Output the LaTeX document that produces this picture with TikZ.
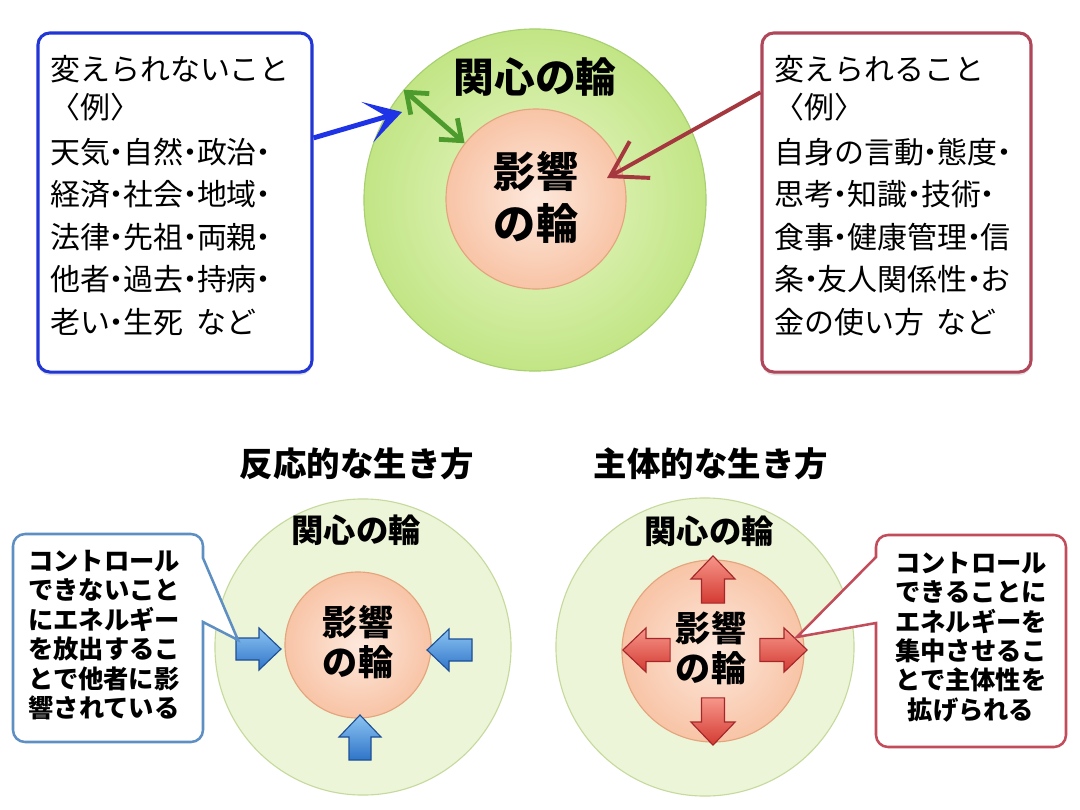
\documentclass[tikz,border=0pt]{standalone}
\usepackage{fontspec}
\setmainfont{Noto Sans CJK JP}
\usetikzlibrary{arrows.meta,shadows}

\definecolor{ringgreen}{HTML}{C2E585}
\definecolor{ringgreenlt}{HTML}{EAF8CC}
\definecolor{ringedge}{HTML}{A8CF70}
\definecolor{coreorange}{HTML}{F8C4A6}
\definecolor{corelt}{HTML}{FDE8DC}
\definecolor{coreedge}{HTML}{E3A57E}
\definecolor{paleouter}{HTML}{EDF5D8}
\definecolor{paleedge}{HTML}{C6DA9E}
\definecolor{nocol}{HTML}{2236D6}
\definecolor{yescol}{HTML}{B0465A}
\definecolor{arrowblue}{HTML}{1F33E6}
\definecolor{arrowred}{HTML}{A5373F}
\definecolor{arrowgreen}{HTML}{4C9B2C}
\definecolor{callblue}{HTML}{5E8FC2}
\definecolor{callred}{HTML}{C24C5A}
\definecolor{blkblue}{HTML}{2F74C8}
\definecolor{blkbluelt}{HTML}{8CC4F2}
\definecolor{blkblueedge}{HTML}{1D4F96}
\definecolor{blkred}{HTML}{D33A32}
\definecolor{blkredlt}{HTML}{F7968A}
\definecolor{blkrededge}{HTML}{A3262A}

% narrow middle dot
\newcommand{\nk}{\makebox[0.45em]{・}}

\tikzset{
  blockarrow/.pic={
    \draw[pic actions] (-22,-11) -- (1,-11) -- (1,-21) -- (23,0)
      -- (1,21) -- (1,11) -- (-22,11) -- cycle;
  },
}

\begin{document}
\begin{tikzpicture}[x=0.025cm, y=-0.025cm,
  box/.style={draw, line width=2.2pt, rounded corners=0.3cm, fill=white,
    minimum height=8.475cm,
    drop shadow={opacity=0.22, shadow xshift=0pt, shadow yshift=-0.08cm}},
  boxtext/.style={anchor=north west, inner sep=0pt, align=left,
    font=\fontsize{21.3}{30.2}\selectfont},
  ring/.style={circle, draw=ringedge, line width=0.8pt,
    inner color=ringgreenlt, outer color=ringgreen},
  core/.style={circle, draw=coreedge, line width=0.8pt,
    inner color=corelt, outer color=coreorange},
  palering/.style={circle, draw=paleedge, line width=0.8pt, fill=paleouter},
  ringlabel/.style={font=\bfseries\fontsize{29}{34}\selectfont},
  corelabel/.style={align=center, font=\bfseries\fontsize{30}{37}\selectfont},
  title/.style={font=\bfseries\fontsize{23.8}{28}\selectfont},
  smalllabel/.style={font=\bfseries\fontsize{23}{27}\selectfont},
  smallcore/.style={align=center, font=\bfseries\fontsize{25}{28}\selectfont},
  calltext/.style={align=center, font=\bfseries\fontsize{18}{20.9}\selectfont},
  callout/.style={line width=1.8pt, fill=white},
  blueblock/.style={draw=blkblueedge, line width=0.8pt,
    top color=blkbluelt, bottom color=blkblue},
  redblock/.style={draw=blkrededge, line width=0.8pt,
    top color=blkredlt, bottom color=blkred, scale=1.05},
]
  \fill[white] (0,0) rectangle (1080,810);
  \useasboundingbox (0,0) rectangle (1080,810);

  % Top: circle of concern and circle of influence.
  \node[ring, minimum size=8.55cm] (outer) at (535,200) {};
  \node[core, minimum size=4.5cm] (inner) at (536,199) {};
  \node[ringlabel] (concern) at (535,77) {関心の輪};
  \node[corelabel] (influence) at (536,197) {影響\\の輪};

  % Things that cannot / can be changed.
  \node[box, draw=nocol, minimum width=6.85cm] (nobox) at (175,202.5) {};
  \node[boxtext] (notext) at (50,55)
    {変えられないこと\\[-3.2pt]
     〈例〉\\[1.8pt]
     天気\nk 自然\nk 政治\nk\\
     経済\nk 社会\nk 地域\nk\\
     法律\nk 先祖\nk 両親\nk\\
     他者\nk 過去\nk 持病\nk\\
     老い\nk 生死 \hspace{0.2em}など};
  \node[box, draw=yescol, minimum width=6.725cm] (yesbox) at (896.5,202.5) {};
  \node[boxtext] (yestext) at (774,55)
    {変えられること\\[-3.2pt]
     〈例〉\\[1.8pt]
     自身の言動\nk 態度\nk\\
     思考\nk 知識\nk 技術\nk\\
     食事\nk 健康管理\nk 信\\
     条\nk 友人関係性\nk お\\
     金の使い方 \hspace{0.2em}など};

  \coordinate (bluetip) at (402,112);
  \coordinate (redtip) at (607,178);
  \draw[arrowblue, line width=3.5pt,
    -{Stealth[length=0.9cm, width=1.05cm, inset=0.5cm]}] (nobox.25) -- (bluetip);
  \draw[arrowred, line width=2.8pt,
    -{Straight Barb[length=0.85cm, width=1.05cm]}] (yesbox.141) -- (redtip);
  \draw[arrowgreen, line width=3.4pt,
    {Straight Barb[length=0.45cm, width=0.7cm]}-{Straight Barb[length=0.45cm, width=0.7cm]}]
    (outer.140) -- (inner.142);

  % Bottom titles.
  \node[title] (react) at (357,464) {反応的な生き方};
  \node[title] (proact) at (711,464) {主体的な生き方};

  % Reactive way of life.
  \node[palering, minimum size=7.4cm] (router) at (363,647) {};
  \node[core, minimum size=3.65cm] (rinner) at (358,645) {};
  \node[smalllabel] (rconcern) at (356,530) {関心の輪};
  \node[smallcore] (rinfluence) at (358,642) {影響\\の輪};
  \foreach \px/\py/\ang in {258/649/0, 450/650/180, 360/738/90}
    \pic[blueblock, rotate=\ang] at (\px,\py) {blockarrow};

  \draw[callout, draw=callblue] (13,640) [rounded corners=0.3cm] -- (13,534)
    -- (203,534) [sharp corners] -- (203,558) -- (238,640) -- (203,622)
    [rounded corners=0.3cm] -- (203,742) -- (13,742) -- cycle;
  \node[calltext] (rcall) at (104,635)
    {コントロール\\できないこと\\にエネルギー\\を放出するこ\\とで他者に影\\響されている};

  % Proactive way of life.
  \node[palering, minimum size=7.45cm] (pouter) at (705,647) {};
  \node[core, minimum size=4.55cm] (pinner) at (713,651) {};
  \node[smalllabel] (pconcern) at (709,531) {関心の輪};
  \node[smallcore] (pinfluence) at (711,648) {影響\\の輪};
  \foreach \px/\py/\ang in {713/580/90, 713/721/270, 647/650/180, 783/650/0}
    \pic[redblock, rotate=\ang] at (\px,\py) {blockarrow};

  \draw[callout, draw=callred] (1066,640) [rounded corners=0.3cm] -- (1066,535)
    -- (876,535) [sharp corners] -- (876,557) -- (797,637) -- (876,623)
    [rounded corners=0.3cm] -- (876,747) -- (1066,747) -- cycle;
  \node[calltext] (pcall) at (971,637)
    {コントロール\\できることに\\エネルギーを\\集中させるこ\\とで主体性を\\拡げられる};
\end{tikzpicture}
\end{document}
